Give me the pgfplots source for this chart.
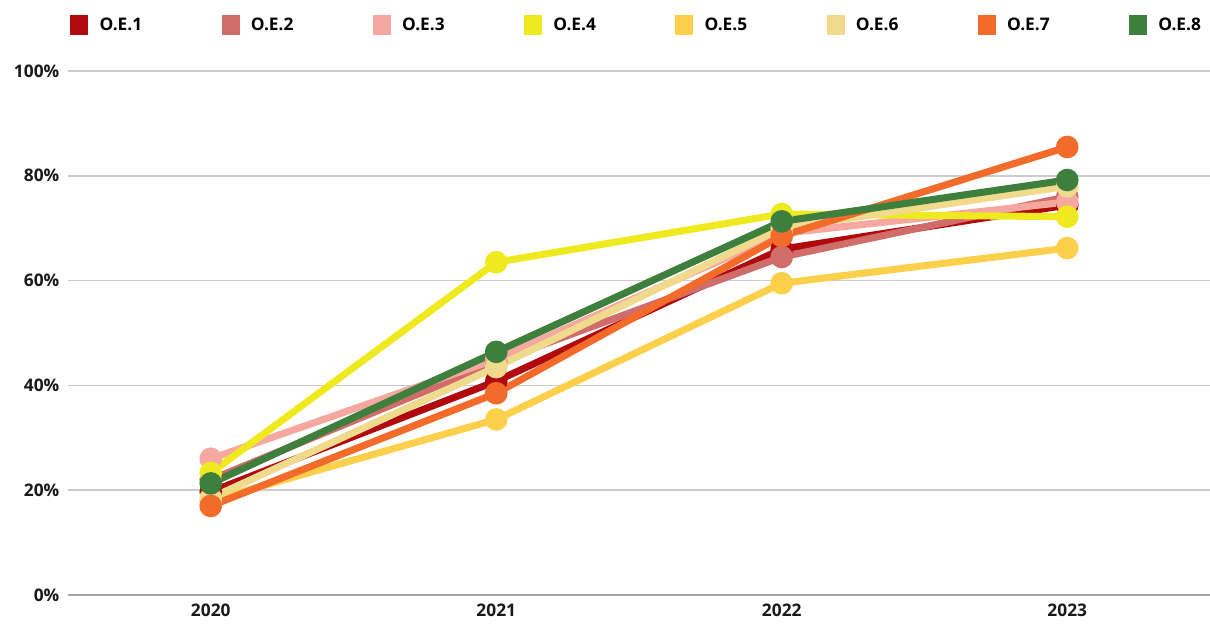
\documentclass[border=0pt]{standalone}
\usepackage{pgfplots}
\pgfplotsset{compat=1.18}
\usepackage{fontspec}
\setmainfont{Open Sans}
\definecolor{c1}{HTML}{B00A0E}
\definecolor{c2}{HTML}{D06C6A}
\definecolor{c3}{HTML}{F6A8A0}
\definecolor{c4}{HTML}{EFEA1F}
\definecolor{c5}{HTML}{FDD04C}
\definecolor{c6}{HTML}{F0DA8C}
\definecolor{c7}{HTML}{F36B2B}
\definecolor{c8}{HTML}{3F7F3E}
\begin{document}
\begin{tikzpicture}
\begin{axis}[
  scale only axis,
  width=856.5pt, height=393pt,
  xmin=-0.5, xmax=3.5, ymin=0, ymax=100,
  xtick={0,1,2,3}, xticklabels={2020,2021,2022,2023},
  ytick={0,20,40,60,80,100},
  yticklabel={\pgfmathprintnumber{\tick}\%},
  /pgf/number format/assume math mode=true,
  axis y line*=left,
  y axis line style={draw=none},
  axis x line*=bottom,
  x axis line style={draw=gray!70, line width=2pt, -},
  major tick length=0pt,
  ymajorgrids,
  grid style={gray!40, line width=1.2pt},
  tick label style={font=\fontsize{13}{15}\selectfont\bfseries, text=black!90},
  yticklabel style={xshift=-3pt},
  xticklabel style={yshift=-3pt},
  clip=false,
  legend columns=8,
  legend style={draw=none, fill=none, at={(0.0018,1.088)}, anchor=west, inner sep=0pt,
    font=\fontsize{13}{15}\selectfont\bfseries,
    nodes={inner xsep=0pt},
    /tikz/every odd column/.append style={column sep=8.5pt},
    /tikz/every even column/.append style={column sep=59.5pt}},
  legend image code/.code={\fill[#1, draw=none] (0pt,-7.5pt) rectangle (13.5pt,7.5pt);},
  every axis plot/.append style={line width=5.3pt, mark=*, mark size=5.8pt, mark options={line width=0pt}},
]
\addplot[c1, mark options={fill=c1}] coordinates {(0,19.7) (1,40.8) (2,66) (3,74.4)};
\addlegendentry{O.E.1}
\addplot[c2, mark options={fill=c2}] coordinates {(0,22) (1,44.5) (2,64.5) (3,76)};
\addlegendentry{O.E.2}
\addplot[c3, mark options={fill=c3}] coordinates {(0,26) (1,45) (2,69) (3,75)};
\addlegendentry{O.E.3}
\addplot[c4, mark options={fill=c4}] coordinates {(0,23.3) (1,63.5) (2,72.7) (3,72.2)};
\addlegendentry{O.E.4}
\addplot[c5, mark options={fill=c5}] coordinates {(0,18) (1,33.5) (2,59.5) (3,66.2)};
\addlegendentry{O.E.5}
\addplot[c6, mark options={fill=c6}] coordinates {(0,18.5) (1,43.5) (2,70) (3,78)};
\addlegendentry{O.E.6}
\addplot[c7, mark options={fill=c7}] coordinates {(0,17) (1,38.5) (2,68.5) (3,85.5)};
\addlegendentry{O.E.7}
\addplot[c8, mark options={fill=c8}] coordinates {(0,21.3) (1,46.4) (2,71.3) (3,79.2)};
\addlegendentry{O.E.8}
\end{axis}
\pgfresetboundingbox
\path (-51pt,-22.5pt) rectangle (856.5pt,446.25pt);
\end{tikzpicture}
\end{document}
